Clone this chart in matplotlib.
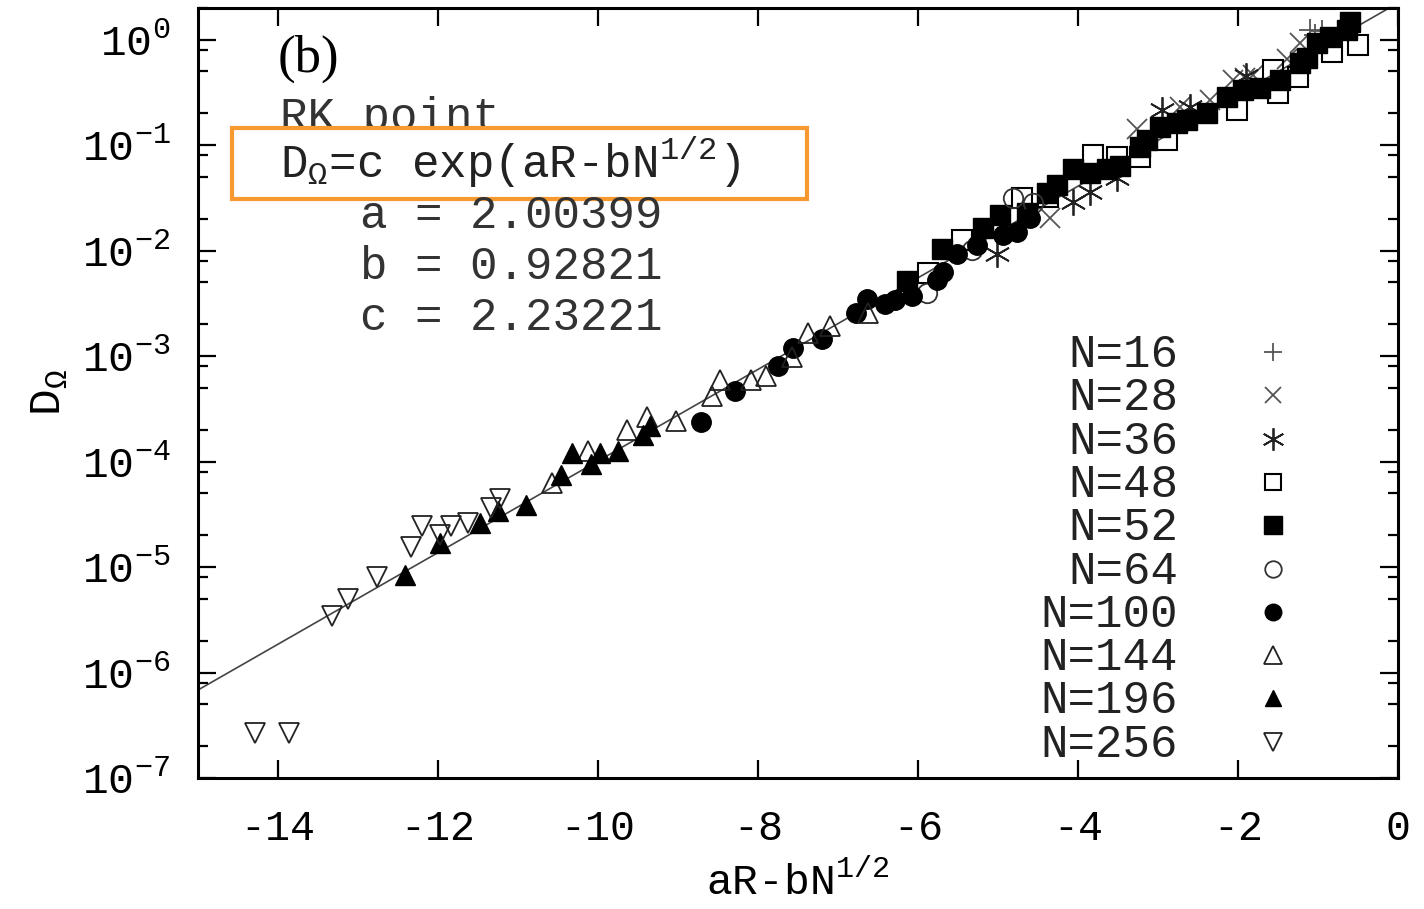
import numpy as np
import matplotlib
matplotlib.use('Agg')
import matplotlib.pyplot as plt
from matplotlib.patches import Rectangle
from matplotlib.ticker import LogLocator, NullFormatter

plt.rcParams['font.family'] = ['Liberation Mono', 'DejaVu Sans']
plt.rcParams['mathtext.fontset'] = 'custom'
plt.rcParams['mathtext.rm'] = 'Liberation Mono'
plt.rcParams['mathtext.it'] = 'Liberation Mono'
plt.rcParams['mathtext.bf'] = 'Liberation Mono'
plt.rcParams['axes.unicode_minus'] = False

# fit parameters shown in the panel
a_fit, b_fit, c_fit = 2.00399, 0.92821, 2.23221

# data: x = aR - bN^(1/2), y = D_Omega
x16 = [-1.10, -1.04, -0.95]
d16 = [1.25, 1.12, 1.20]
x28 = [-4.35, -3.26, -2.725, -2.35, -2.06, -1.91, -1.81, -1.39, -1.225]
d28 = [2.06e-2, 0.141, 0.232, 0.271, 0.419, 0.437, 0.468, 0.65, 0.94]
x36 = [-5.01, -4.06, -3.85, -3.51, -2.95, -2.60, -1.90]
d36 = [9.4e-3, 2.92e-2, 3.63e-2, 4.9e-2, 0.218, 0.228, 0.45]
x48 = [-5.875, -5.45, -4.70, -4.375, -3.81, -3.51, -3.225, -2.89, -2.01,
       -1.56, -1.50, -1.25, -0.825, -0.50]
d48 = [6.2e-3, 1.27e-2, 3.18e-2, 3.25e-2, 8.1e-2, 7.8e-2, 7.8e-2, 0.113, 0.218,
       0.52, 0.315, 0.448, 0.757, 0.90]
x52 = [-6.14, -5.70, -5.19, -4.975, -4.64, -4.39, -4.26, -4.06, -3.85, -3.64,
       -3.475, -3.225, -3.14, -2.975, -2.76, -2.64, -2.39, -2.14, -1.94, -1.725,
       -1.475, -1.225, -1.14, -1.01, -0.85, -0.64, -0.60]
d52 = [5.2e-3, 1.04e-2, 1.65e-2, 2.2e-2, 2.3e-2, 3.5e-2, 4.2e-2, 5.9e-2, 5.5e-2, 5.9e-2,
       6.3e-2, 9.7e-2, 0.113, 0.150, 0.164, 0.175, 0.204, 0.289, 0.337, 0.352,
       0.419, 0.608, 0.678, 0.94, 1.07, 1.25, 1.46]
x64 = [-5.89, -5.325, -4.81, -4.56]
d64 = [4.0e-3, 1.02e-2, 3.18e-2, 2.85e-2]
x100 = [-8.71, -8.29, -7.75, -7.56, -7.20, -6.775, -6.64, -6.41, -6.29, -6.075,
        -5.76, -5.69, -5.51, -5.26, -4.94, -4.76, -4.60]
d100 = [2.39e-4, 4.7e-4, 8.1e-4, 1.20e-3, 1.46e-3, 2.58e-3, 3.5e-3, 3.14e-3, 3.43e-3, 3.74e-3,
        5.3e-3, 6.3e-3, 9.2e-3, 1.14e-2, 1.42e-2, 1.51e-2, 2.06e-2]
x144 = [-10.57, -10.13, -9.64, -9.39, -9.03, -8.58, -8.47, -8.09, -7.90, -7.575,
        -7.375, -7.10, -6.625]
d144 = [6.25e-5, 1.25e-4, 2.0e-4, 2.64e-4, 2.45e-4, 4.15e-4, 5.97e-4, 5.97e-4, 6.5e-4, 9.9e-4,
        1.67e-3, 1.94e-3, 2.58e-3]
x196 = [-12.41, -11.98, -11.47, -11.25, -10.90, -10.46, -10.33, -10.09, -9.97, -9.75,
        -9.44, -9.35]
d196 = [8.4e-6, 1.69e-5, 2.64e-5, 3.37e-5, 3.89e-5, 7.4e-5, 1.20e-4, 9.5e-5, 1.20e-4, 1.25e-4,
        1.79e-4, 2.19e-4]
x256 = [-14.29, -13.86, -13.32, -13.12, -12.76, -12.34, -12.20, -11.97, -11.84, -11.62,
        -11.34, -11.22]
d256 = [2.7e-7, 2.7e-7, 3.4e-6, 5.0e-6, 8.1e-6, 1.56e-5, 2.46e-5, 2.02e-5, 2.46e-5, 2.64e-5,
        3.62e-5, 4.44e-5]

labels = ['N=16', 'N=28', 'N=36', 'N=48', 'N=52', 'N=64', 'N=100', 'N=144', 'N=196', 'N=256']
xs = [x16, x28, x36, x48, x52, x64, x100, x144, x196, x256]
ds = [d16, d28, d36, d48, d52, d64, d100, d144, d196, d256]

GRAY = '#555555'
STYLES = [
    dict(marker='+', ms=16, mec=GRAY, mew=1.3),
    dict(marker='x', ms=14, mec=GRAY, mew=1.3),
    dict(marker=(6, 2, 0), ms=19, mec='#222222', mew=1.3),
    dict(marker='s', ms=14, mfc='none', mec='black', mew=1.5),
    dict(marker='s', ms=15, mfc='black', mec='black', mew=1.0),
    dict(marker='o', ms=14, mfc='none', mec='#333333', mew=1.3),
    dict(marker='o', ms=14, mfc='black', mec='black', mew=1.0),
    dict(marker='^', ms=15, mfc='none', mec='#222222', mew=1.3),
    dict(marker='^', ms=14, mfc='black', mec='black', mew=1.0),
    dict(marker='v', ms=15, mfc='none', mec='#222222', mew=1.3),
]

W, H = 1424, 909
fig = plt.figure(figsize=(W / 100, H / 100), dpi=100)
ax = fig.add_axes([198 / W, 1 - 778 / H, 1200 / W, 770 / H])

# fit line D = c exp(x)
xf = np.linspace(-15, 0, 50)
ax.plot(xf, c_fit * np.exp(xf), color='#444444', lw=1.2, zorder=1)

for x, d, st in zip(xs, ds, STYLES):
    ax.plot(x, d, ls='none', zorder=2, **st)

ax.set_yscale('log')
ax.set_xlim(-15, 0)
ax.set_ylim(1e-7, 2.0)
ax.set_xticks(np.arange(-14, 1, 2))
ax.yaxis.set_major_locator(LogLocator(base=10, subs=[1.0], numticks=20))
ax.yaxis.set_minor_locator(LogLocator(base=10, subs=[2.0, 5.0, 8.0], numticks=20))
ax.yaxis.set_minor_formatter(NullFormatter())

for sp in ax.spines.values():
    sp.set_linewidth(2.2)
ax.tick_params(which='both', direction='in', top=True, right=True, width=1.6)
ax.tick_params(which='major', length=13)
ax.tick_params(which='minor', length=7)
ax.tick_params(axis='x', labelsize=30, pad=22)
ax.tick_params(axis='y', labelsize=31, pad=20)

ax.set_xlabel('aR-bN$^{\\mathrm{1/2}}$', fontsize=31, labelpad=9)
ax.set_ylabel('D$_{\\mathrm{Ω}}$', fontsize=32, labelpad=8)


def fx(px):
    return px / W


def fy(py):
    return 1 - py / H


# annotation block
fig.text(fx(278), fy(72), '(b)', family='Liberation Serif', fontsize=38, va='baseline')
fig.text(fx(280), fy(130), 'RK point', fontsize=33, va='baseline', color='#333333', zorder=1)
box = Rectangle((fx(232), fy(199)), (807 - 232) / W, (199 - 128) / H, transform=fig.transFigure,
                facecolor='white', edgecolor='#F7992F', lw=3.0, zorder=3)
fig.patches.append(box)
fig.text(fx(280), fy(178), 'D$_{\\mathrm{Ω}}$=c exp(aR-bN$^{\\mathrm{1/2}}$)', fontsize=33,
         va='baseline', color='#222222', zorder=4)
for i, (nm, val) in enumerate([('a', a_fit), ('b', b_fit), ('c', c_fit)]):
    fig.text(fx(360), fy(228 + 51 * i), '%s = %.5f' % (nm, val), fontsize=33,
             va='baseline', color='#333333')

# key
for i, (lab, st) in enumerate(zip(labels, STYLES)):
    yc = 352 + 43.3 * i
    fig.text(fx(1178), fy(yc + 15), lab, fontsize=33, ha='right', va='baseline', color='#222222')
    kst = dict(st)
    kst['ms'] = st['ms'] * 0.85
    ax.plot([fx(1273)], [fy(yc)], transform=fig.transFigure, clip_on=False, ls='none', **kst)

fig.savefig('out.png', dpi=100)
